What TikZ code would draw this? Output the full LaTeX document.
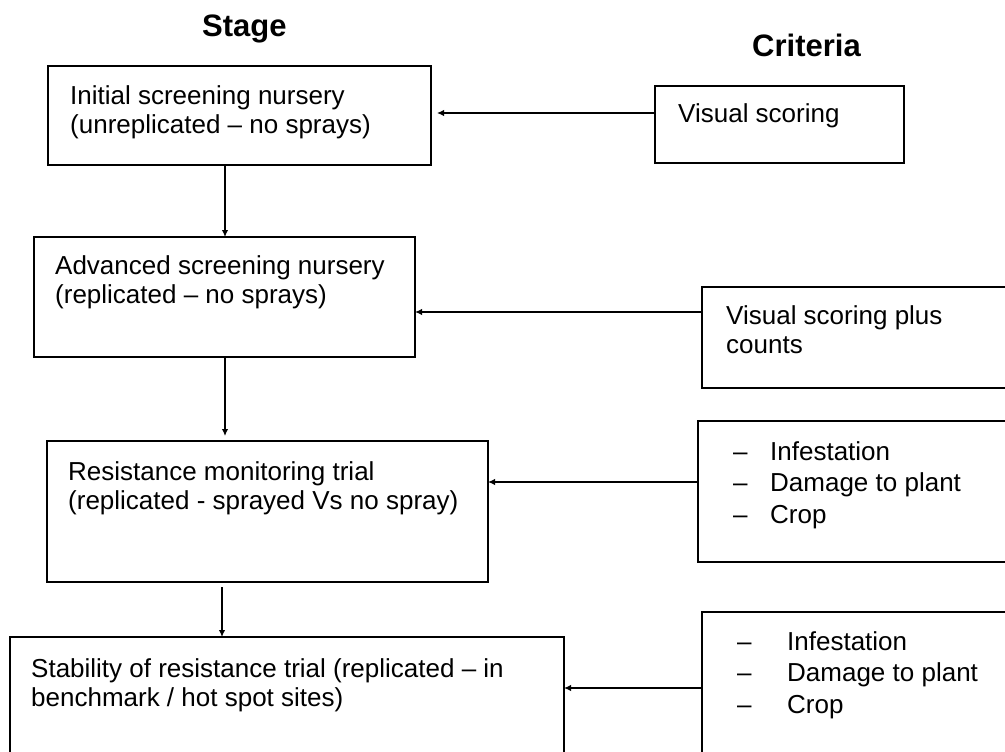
\documentclass[tikz,border=0pt]{standalone}
\usepackage{fontspec}
\setmainfont{Liberation Sans}
\usetikzlibrary{arrows.meta}
\newcommand{\lns}[1]{\begin{tabular}[t]{@{}l@{}}#1\end{tabular}}
\begin{document}
\begin{tikzpicture}[x=1pt,y=-1pt,
  box/.style={draw,line width=1.8pt,inner sep=0pt,outer sep=0pt,anchor=north west},
  txt/.style={anchor=base west,inner sep=0pt,font=\fontsize{26}{29}\selectfont},
  lst/.style={anchor=base west,inner sep=0pt,font=\fontsize{26}{31.5}\selectfont},
  head/.style={anchor=base west,inner sep=0pt,font=\fontsize{31}{36}\selectfont\bfseries},
  arr/.style={line width=1.8pt,-{Latex[length=7pt,width=6.5pt]}}]
\useasboundingbox (0,0) rectangle (1005,752);
\clip (0,0) rectangle (1005,752);

% headers
\node[head] (hstage) at (202,37) {Stage};
\node[head] (hcrit) at (752,57) {Criteria};

% stage boxes
\node[box,minimum width=383pt,minimum height=99pt] (s1) at (48,66) {};
\node[box,minimum width=381pt,minimum height=120pt] (s2) at (34,237) {};
\node[box,minimum width=441pt,minimum height=141pt] (s3) at (47,441) {};
\node[box,minimum width=554pt,minimum height=153pt] (s4) at (10,637) {};

% criteria boxes
\node[box,minimum width=249pt,minimum height=77pt] (c1) at (655,86) {};
\node[box,minimum width=328pt,minimum height=101pt] (c2) at (702,287) {};
\node[box,minimum width=332pt,minimum height=141pt] (c3) at (698,421) {};
\node[box,minimum width=328pt,minimum height=178pt] (c4) at (702,612) {};

% stage texts
\node[txt] (t1) at (70,104) {\lns{Initial screening nursery\\(unreplicated – no sprays)}};
\node[txt] (t2) at (55,274) {\lns{Advanced screening nursery\\(replicated – no sprays)}};
\node[txt] (t3) at (68,480) {\lns{Resistance monitoring trial\\(replicated - sprayed Vs no spray)}};
\node[txt] (t4) at (31,677) {\lns{Stability of resistance trial (replicated – in\\benchmark / hot spot sites)}};

% criteria texts
\node[txt] (u1) at (678,123) {Visual scoring};
\node[txt] (u2) at (726,324) {\lns{Visual scoring plus\\counts}};
\node[lst] (u3) at (733,460) {\lns{\makebox[37pt][l]{–}Infestation\\\makebox[37pt][l]{–}Damage to plant\\\makebox[37pt][l]{–}Crop}};
\node[lst] (u4) at (737,650) {\lns{\makebox[50pt][l]{–}Infestation\\\makebox[50pt][l]{–}Damage to plant\\\makebox[50pt][l]{–}Crop}};

% helper coordinates
\coordinate (ya) at (0,113);
\coordinate (yb) at (0,312);
\coordinate (yc) at (0,482);
\coordinate (yd) at (0,688);
\coordinate (xa) at (225,0);
\coordinate (xb) at (222,0);

% horizontal connectors
\draw[arr,shorten >=6pt] (c1.west |- ya) -- (s1.east |- ya);
\draw[arr] (c2.west |- yb) -- (s2.east |- yb);
\draw[arr] (c3.west |- yc) -- (s3.east |- yc);
\draw[arr] (c4.west |- yd) -- (s4.east |- yd);

% vertical connectors
\draw[arr] (s1.south -| xa) -- (s2.north -| xa);
\draw[arr,shorten >=5pt] (s2.south -| xa) -- (s3.north -| xa);
\draw[arr,shorten <=5pt] (s3.south -| xb) -- (s4.north -| xb);
\end{tikzpicture}
\end{document}
